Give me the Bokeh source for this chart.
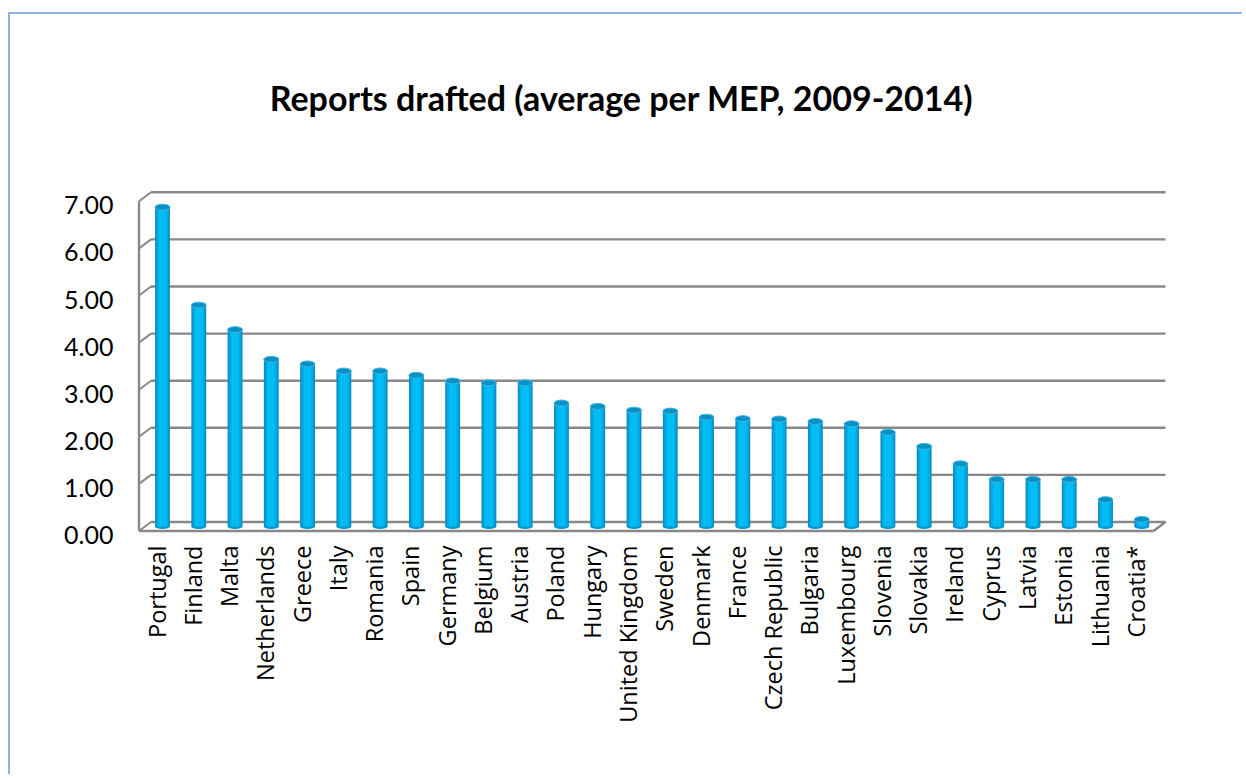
import math
from bokeh.plotting import figure
from bokeh.models import (Range1d, LinearAxis, FixedTicker, NumeralTickFormatter,
                          Label, ColumnDataSource)
from bokeh.embed import file_html
from bokeh.resources import INLINE

# ---------------- data ----------------
countries = ["Portugal", "Finland", "Malta", "Netherlands", "Greece", "Italy",
             "Romania", "Spain", "Germany", "Belgium", "Austria", "Poland",
             "Hungary", "United Kingdom", "Sweden", "Denmark", "France",
             "Czech Republic", "Bulgaria", "Luxembourg", "Slovenia", "Slovakia",
             "Ireland", "Cyprus", "Latvia", "Estonia", "Lithuania", "Croatia*"]
reports = [6.78, 4.70, 4.18, 3.55, 3.45, 3.30, 3.30, 3.21, 3.09, 3.05, 3.05,
           2.62, 2.55, 2.47, 2.45, 2.32, 2.29, 2.28, 2.23, 2.18, 2.00, 1.70,
           1.33, 1.00, 1.00, 1.00, 0.57, 0.15]
y_ticks = [0, 1, 2, 3, 4, 5, 6, 7]
title_text = "Reports drafted (average per MEP, 2009-2014)"

# ---------------- layout (page pixels) ----------------
PAGE_X0, PAGE_Y0 = 10, 14          # canvas origin on the page
W, H = 1234, 762
FRAME_L, FRAME_R, FRAME_T, FRAME_B = 136, 1170, 40, 536
BAR0_X, BAR_STEP = 162, 36.27      # first bar centre, spacing
ZERO_Y, UNIT_PX = 526, 47.1        # value 0 at mid depth, px per unit
DEPTH_X, DEPTH_Y = 12, 9           # 3-D depth, front to back
FLOOR_LF, FLOOR_RF = 138.5, 1153   # front floor corners
LABEL_DROP = 4
TITLE_CX, TITLE_BASE = 621, 97

x_range = Range1d((FRAME_L - BAR0_X) / BAR_STEP, (FRAME_R - BAR0_X) / BAR_STEP)
y_range = Range1d((ZERO_Y - FRAME_B) / UNIT_PX, (ZERO_Y - FRAME_T) / UNIT_PX)
hdx = DEPTH_X / 2 / BAR_STEP
hdy = DEPTH_Y / 2 / UNIT_PX
xlf = (FLOOR_LF - BAR0_X) / BAR_STEP
xrf = (FLOOR_RF - BAR0_X) / BAR_STEP
xlb, xrb = xlf + 2 * hdx, xrf + 2 * hdx

p = figure(width=W, height=H, x_range=x_range, y_range=y_range,
           x_axis_type=None, y_axis_type=None, toolbar_location=None,
           output_backend="svg", title=None)
p.min_border_left = FRAME_L - PAGE_X0
p.min_border_right = W - (FRAME_R - PAGE_X0)
p.min_border_top = FRAME_T - PAGE_Y0
p.min_border_bottom = H - (FRAME_B - PAGE_Y0)
p.outline_line_color = None
p.background_fill_color = "white"
p.border_fill_color = "white"
p.styles = {"border-left": "2px solid #8EB4E3", "border-top": "2px solid #8EB4E3",
            "margin-top": "12px", "margin-left": "8px"}

p.extra_x_ranges = {"xlab": Range1d(x_range.start + hdx, x_range.end + hdx)}
shift = hdy + LABEL_DROP / UNIT_PX
p.extra_y_ranges = {"ylab": Range1d(y_range.start + shift, y_range.end + shift)}

GRID = "#888888"
n = len(y_ticks)
# back wall gridlines
p.segment(x0=[xlb] * n, y0=[t + hdy for t in y_ticks], x1=[xrb] * n,
          y1=[t + hdy for t in y_ticks], line_color=GRID, line_width=2.4)
# left side stubs
p.segment(x0=[xlf] * n, y0=[t - hdy for t in y_ticks], x1=[xlb] * n,
          y1=[t + hdy for t in y_ticks], line_color=GRID, line_width=2.0)
# front vertical axis
p.segment(x0=[xlf], y0=[y_ticks[0] - hdy], x1=[xlf], y1=[y_ticks[-1] - hdy],
          line_color=GRID, line_width=2.4)
# floor front edge and right side
p.segment(x0=[xlf, xrf], y0=[-hdy, -hdy], x1=[xrf, xrb], y1=[-hdy, hdy],
          line_color=GRID, line_width=2.4)

src = ColumnDataSource(dict(x=list(range(len(countries))), top=reports,
                            zero=[0] * len(reports)))
BW = 0.41
p.ellipse(x="x", y="zero", width=BW, height=5, height_units="screen", source=src,
          fill_color="#0596CC", line_color=None)
p.vbar(x="x", width=BW, bottom=0, top="top", source=src,
       fill_color="#0A8EC2", line_color=None)
p.vbar(x="x", width=BW * 0.8, bottom=0, top="top", source=src,
       fill_color="#02A9E2", line_color=None)
p.vbar(x="x", width=BW * 0.5, bottom=0, top="top", source=src,
       fill_color="#00BDF5", line_color=None)
p.ellipse(x="x", y="top", width=BW, height=6, height_units="screen", source=src,
          fill_color="#0B90C4", line_color="#3DB8E6", line_width=1)

# axes
yaxis = LinearAxis(y_range_name="ylab", ticker=FixedTicker(ticks=y_ticks),
                   formatter=NumeralTickFormatter(format="0.00"))
yaxis.axis_line_color = None
yaxis.major_tick_line_color = None
yaxis.minor_tick_line_color = None
yaxis.major_tick_out = 0
yaxis.major_tick_in = 0
yaxis.major_label_standoff = 23
yaxis.major_label_text_font = "Lato"
yaxis.major_label_text_font_size = "25px"
yaxis.major_label_text_color = "black"
p.add_layout(yaxis, "left")

xaxis = LinearAxis(x_range_name="xlab",
                   ticker=FixedTicker(ticks=list(range(len(countries)))),
                   major_label_overrides={i: c for i, c in enumerate(countries)})
xaxis.axis_line_color = None
xaxis.major_tick_line_color = None
xaxis.minor_tick_line_color = None
xaxis.major_tick_out = 0
xaxis.major_tick_in = 0
xaxis.major_label_orientation = math.pi / 2
xaxis.major_label_standoff = 9
xaxis.major_label_text_font = "Open Sans"
xaxis.major_label_text_font_size = "23.5px"
xaxis.major_label_text_color = "black"
p.add_layout(xaxis, "below")

# title, positioned through the plot's own scales
title = Label(x=(TITLE_CX - BAR0_X) / BAR_STEP, y=(ZERO_Y - TITLE_BASE) / UNIT_PX,
              text=title_text, text_align="center",
              text_baseline="alphabetic", text_font="Lato", text_font_style="bold",
              text_font_size="34px", text_color="black")
p.add_layout(title)

open("out.html", "w").write(file_html(p, INLINE))
